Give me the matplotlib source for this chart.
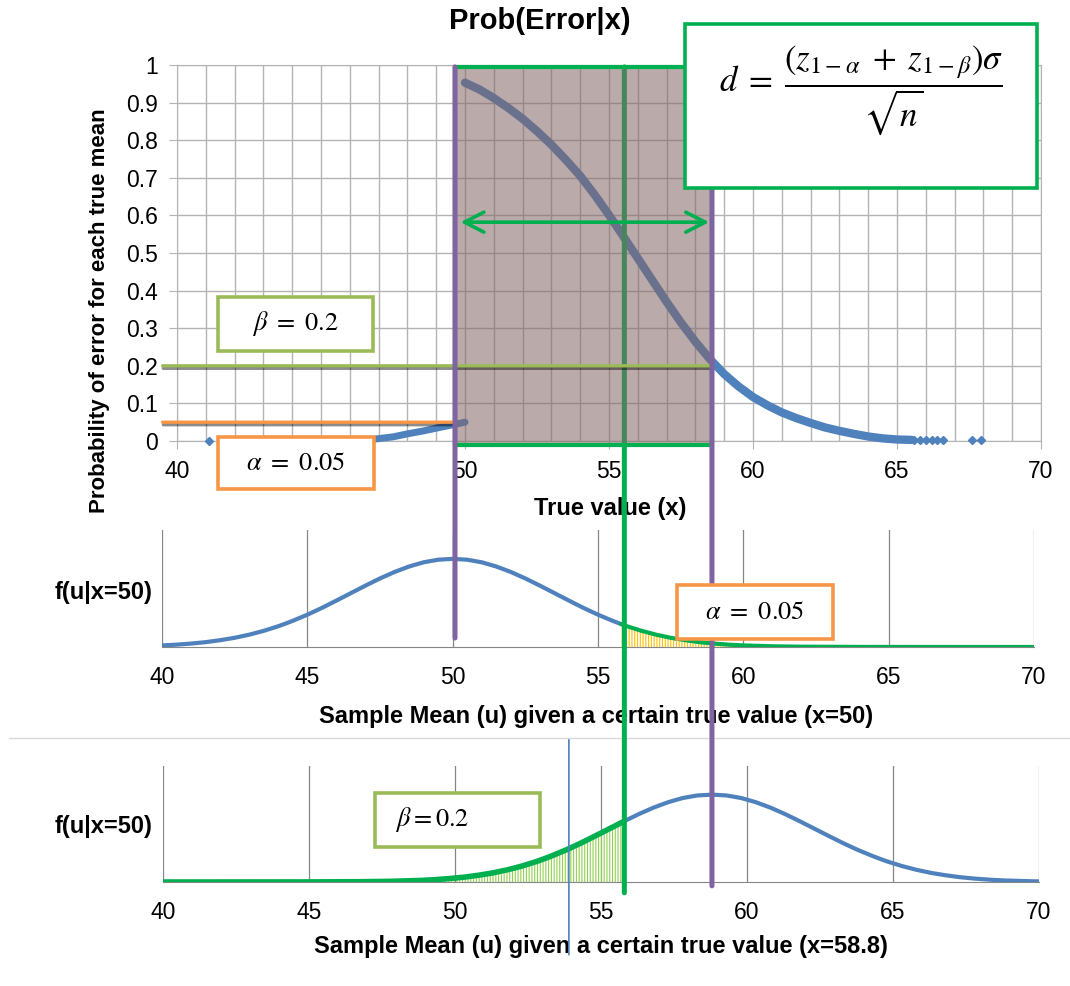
import numpy as np
import matplotlib.pyplot as plt
import matplotlib.patheffects as pe
from matplotlib.patches import Rectangle, ConnectionPatch
from matplotlib.lines import Line2D
from matplotlib.ticker import MultipleLocator, FuncFormatter
from matplotlib.transforms import blended_transform_factory as blend

plt.rcParams['font.family'] = ['Liberation Sans', 'DejaVu Sans']
plt.rcParams['mathtext.fontset'] = 'stix'
plt.rcParams['hatch.linewidth'] = 0.8

# ---- data ---------------------------------------------------------------
# Prob(Error|x): upper branch (true mean above 50)
err_x = [50.0, 50.5, 51.0, 51.5, 52.0, 52.5, 53.0, 53.5, 54.0, 54.5, 55.0, 55.5,
         56.0, 56.5, 57.0, 57.5, 58.0, 58.5, 59.0, 59.5, 60.0, 60.5, 61.0, 61.5,
         62.0, 62.5, 63.0, 63.5, 64.0, 64.5, 65.0, 65.5]
err_p = [0.953, 0.935, 0.912, 0.886, 0.857, 0.824, 0.788, 0.748, 0.705, 0.655, 0.601, 0.544,
         0.486, 0.428, 0.370, 0.315, 0.264, 0.218, 0.178, 0.145, 0.117, 0.095, 0.076, 0.061,
         0.048, 0.036, 0.027, 0.019, 0.012, 0.007, 0.004, 0.003]
# lower branch (true mean below 50)
err_x_lo = [44.5, 45.5, 46.8, 47.5, 48.0, 48.5, 49.0, 49.5, 50.0]
err_p_lo = [0.0015, 0.0025, 0.0045, 0.011, 0.019, 0.026, 0.034, 0.042, 0.050]
# stray points in the tails
tail_x = [41.1, 65.6, 65.8, 66.0, 66.2, 66.4, 66.6, 67.6, 67.9]
tail_p = [0.000, 0.003, 0.003, 0.002, 0.002, 0.002, 0.002, 0.002, 0.002]

# sampling density of the mean, as deviation from the true value
dev = [-18.8, -14, -12, -11, -10, -9.5, -9, -8.5, -8, -7.5, -7, -6.5, -6, -5.8,
       -5.5, -5, -4.5, -4, -3.5, -3, -2.5, -2, -1.5, -1, -0.5, 0, 0.5, 1, 1.5,
       2, 2.5, 3, 3.5, 4, 4.5, 5, 5.5, 5.8, 6, 6.5, 7, 7.5, 8, 8.5, 9, 9.5, 10,
       11, 11.2, 12, 14, 20]
dens = [0.0, 0.0001, 0.0004, 0.0009, 0.0020, 0.0030, 0.0044, 0.0062, 0.0087, 0.0118,
        0.0158, 0.0207, 0.0266, 0.0293, 0.0336, 0.0414, 0.0501, 0.0595, 0.0691, 0.0787,
        0.0879, 0.0962, 0.1032, 0.1086, 0.1119, 0.1130, 0.1119, 0.1086, 0.1032, 0.0962,
        0.0879, 0.0787, 0.0691, 0.0595, 0.0501, 0.0414, 0.0336, 0.0293, 0.0266, 0.0207,
        0.0158, 0.0118, 0.0087, 0.0062, 0.0044, 0.0030, 0.0020, 0.0009, 0.0008, 0.0004,
        0.0001, 0.0]

x_null = 50.0      # true mean under H0
x_alt = 58.8       # true mean under H1
crit = 55.8        # critical value of the sample mean
alpha = 0.05
beta = 0.2
x_cursor = 53.9

BLUE = '#4f81bd'
GREEN = '#00b050'
LIME = '#9bbb59'
ORANGE = '#f79646'
PURPLE = '#8064a2'
GRID = '#b4b4b4'
DGRID = '#868686'

W, H = 1070, 986
fig = plt.figure(figsize=(W / 100, H / 100), dpi=100)


def rect(x, y, w, h):
    return [x / W, 1 - (y + h) / H, w / W, h / H]


def fpos(x, y):
    return x / W, 1 - y / H


ax1 = fig.add_axes(rect(177, 65, 864, 376))
ax2 = fig.add_axes(rect(162, 530, 872, 117))
ax3 = fig.add_axes(rect(163, 766, 876, 116))

# ---- top panel: probability of error ------------------------------------
ax1.set_xlim(40, 70)
ax1.set_ylim(0, 1)
ax1.xaxis.set_major_locator(MultipleLocator(5))
ax1.xaxis.set_minor_locator(MultipleLocator(1))
# the 45 label sits under the alpha note, so leave it blank
ax1.xaxis.set_major_formatter(FuncFormatter(lambda v, p: '' if abs(v - 45) < 1e-6 else f'{v:g}'))
ax1.yaxis.set_major_locator(MultipleLocator(0.1))
ax1.yaxis.set_major_formatter(FuncFormatter(lambda v, p: f'{v:g}'))
ax1.grid(True, which='both', color=GRID, lw=1.0)
ax1.set_axisbelow(True)
ax1.tick_params(which='major', length=6, color=GRID, labelsize=16.5, pad=8)
ax1.tick_params(which='minor', length=0)
for s in ax1.spines.values():
    s.set_color(GRID)

ax1.plot(err_x, err_p, color=BLUE, lw=6, solid_capstyle='round', zorder=3, clip_on=False)
ax1.plot(err_x_lo, err_p_lo, color=BLUE, lw=5, solid_capstyle='round', zorder=3, clip_on=False)
ax1.plot(tail_x, tail_p, 'D', color=BLUE, ms=4.5, zorder=3, clip_on=False)

# ---- middle / bottom panels: sampling densities --------------------------
dev_a = np.array(dev)
dens_a = np.array(dens)


def density_panel(ax, centre, left_color, right_color, left_lw, right_lw, hatch_side, hatch_color):
    u = centre + dev_a
    keep = (u >= 40) & (u <= 70)
    u, f = u[keep], dens_a[keep]
    lo = u <= crit + 1e-9
    hi = u >= crit - 1e-9
    ax.plot(u[lo], f[lo], color=left_color, lw=left_lw, solid_capstyle='round', zorder=3)
    ax.plot(u[hi], f[hi], color=right_color, lw=right_lw, solid_capstyle='round', zorder=3)
    sel = lo if hatch_side == 'left' else hi
    ax.fill_between(u[sel], 0, f[sel], facecolor='none', edgecolor=hatch_color,
                    hatch='||||||', lw=0, zorder=2)
    ax.set_xlim(40, 70)
    ax.set_ylim(0, 0.15)
    ax.xaxis.set_major_locator(MultipleLocator(5))
    ax.set_yticks([])
    ax.grid(True, axis='x', color=DGRID, lw=0.9)
    ax.set_axisbelow(True)
    ax.tick_params(axis='x', length=0, labelsize=16.5, pad=14)
    for side in ('left', 'right', 'top'):
        ax.spines[side].set_visible(False)
    ax.spines['bottom'].set_color(DGRID)


density_panel(ax2, x_null, BLUE, GREEN, 3.0, 3.0, 'right', '#ffc000')
density_panel(ax3, x_alt, GREEN, BLUE, 4.0, 3.0, 'left', '#92d050')

# ---- labels ------------------------------------------------------------
fig.text(*fpos(540, 21), 'Prob(Error|x)', ha='center', va='center',
         fontsize=21, fontweight='bold', zorder=0.5)
fig.text(*fpos(100, 311), 'Probability of error for each true mean', ha='center',
         va='center', rotation=90, fontsize=16, fontweight='bold', zorder=0.5)
fig.text(*fpos(610, 508), 'True value (x)', ha='center', va='center',
         fontsize=17, fontweight='bold', zorder=0.5)
fig.text(*fpos(104, 592), 'f(u|x=50)', ha='center', va='center',
         fontsize=17, fontweight='bold', zorder=0.5)
fig.text(*fpos(596, 716), 'Sample Mean (u) given a certain true value (x=50)',
         ha='center', va='center', fontsize=17, fontweight='bold', zorder=0.5)
fig.text(*fpos(104, 826), 'f(u|x=50)', ha='center', va='center',
         fontsize=17, fontweight='bold', zorder=0.5)
fig.text(*fpos(601, 947), 'Sample Mean (u) given a certain true value (x=58.8)',
         ha='center', va='center', fontsize=17, fontweight='bold', zorder=0.5)

# thin divider between the two density panels
fig.add_artist(Line2D([9 / W, 1], [1 - 738 / H] * 2, transform=fig.transFigure,
                      color='#d9d9d9', lw=1, zorder=0.2))

# ---- overlays spanning the panels ----------------------------------------
xb_y1 = blend(ax3.transData, ax1.transData)
xb_y2 = blend(ax3.transData, ax2.transData)
xb_y3 = ax3.transData


def link(xyA, tA, xyB, tB, color, lw, z, **kw):
    cp = ConnectionPatch(xyA=xyA, coordsA=tA, xyB=xyB, coordsB=tB,
                         color=color, lw=lw, zorder=z, **kw)
    fig.add_artist(cp)
    return cp


# critical value line, sits under the shaded band
link((crit, 0.995), xb_y1, (crit, -0.014), xb_y3, GREEN, 3.6, 1)

# shaded band between the two hypotheses
fig.add_artist(Rectangle((x_null, -0.01), x_alt - x_null, 1.005, transform=xb_y1,
                         facecolor='#826464', alpha=0.55, edgecolor='none', zorder=2))
fig.add_artist(Rectangle((x_null, -0.01), x_alt - x_null, 1.005, transform=xb_y1,
                         facecolor='none', edgecolor=GREEN, lw=3.0, zorder=2.1))

shadow = [pe.SimpleLineShadow(offset=(0.5, -1.8), shadow_color='k', alpha=0.45), pe.Normal()]
link((39.5, beta), ax1.transData, (x_alt, beta), xb_y1, LIME, 2.4, 3,
     path_effects=shadow)
link((39.5, alpha), ax1.transData, (x_null, alpha), xb_y1, ORANGE, 2.4, 3,
     path_effects=shadow)

link((x_null, 0.995), xb_y1, (x_null, 0.0115), xb_y2, PURPLE, 3.6, 4)
link((x_alt, 0.995), xb_y1, (x_alt, -0.005), xb_y3, PURPLE, 3.6, 4)

link((x_null, 0.582), xb_y1, (x_alt, 0.582), xb_y1, GREEN, 2.6, 4,
     arrowstyle='<->,head_length=0.7,head_width=0.36', mutation_scale=20,
     shrinkA=4, shrinkB=2)

link((x_cursor, 0.184), xb_y3, (x_cursor, -0.094), xb_y3, BLUE, 1.2, 3)


# ---- annotation boxes -----------------------------------------------------
def note(x, y, w, h, edge, text, size=19, tx=None, ha='center', lw=2.6, z=6):
    fig.add_artist(Rectangle((x / W, 1 - (y + h) / H), w / W, h / H,
                             transform=fig.transFigure, facecolor='white',
                             edgecolor=edge, lw=lw, zorder=z))
    cx = x + w / 2 if tx is None else tx
    fig.text(*fpos(cx, y + h / 2), text, ha=ha, va='center', fontsize=size, zorder=z + 0.5)


note(218, 297, 155, 54, LIME, r'$\beta\ =\ 0.2$')
note(218, 437, 156, 52, ORANGE, r'$\alpha\ =\ 0.05$')
note(677, 585, 156, 54, ORANGE, r'$\alpha\ =\ 0.05$')
note(375, 793, 165, 54, LIME, r'$\beta{=}0.2$', tx=395, ha='left')

fig.add_artist(Rectangle((685 / W, 1 - 188 / H), 352 / W, 164 / H, transform=fig.transFigure,
                         facecolor='white', edgecolor=GREEN, lw=2.6, zorder=8))
fig.text(*fpos(861, 90),
         r'$d\;=\;\dfrac{\left(z_{1-\alpha}\;+\;z_{1-\beta}\right)\sigma}{\sqrt{n}}$',
         ha='center', va='center', fontsize=25, zorder=9)

fig.savefig('out.png', dpi=100)
